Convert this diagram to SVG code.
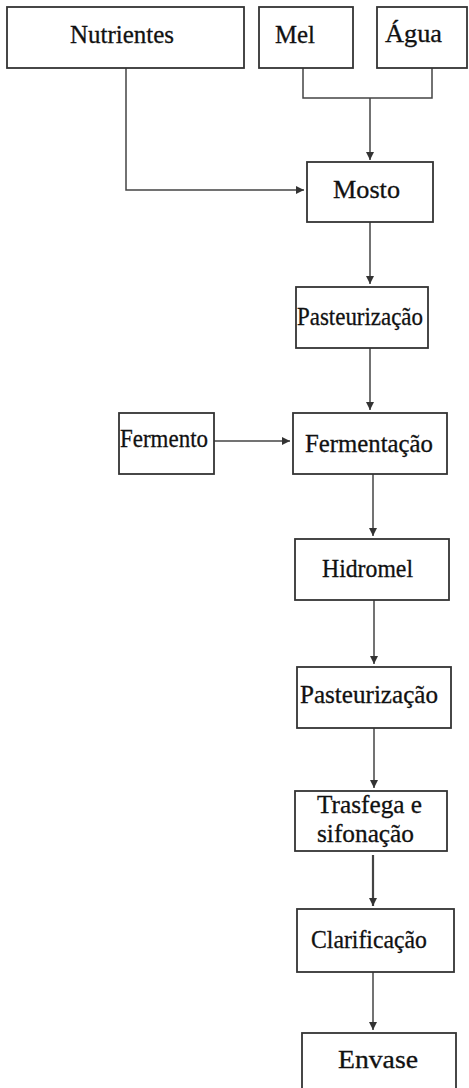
<svg xmlns="http://www.w3.org/2000/svg" width="469" height="1088" viewBox="0 0 469 1088">
<style>
.box{fill:#ffffff;stroke:#333333;stroke-width:1.8}
.t{font-family:"Liberation Serif","Times New Roman",serif;font-size:25px;fill:#111111;stroke:#111111;stroke-width:0.3}
.ln{fill:none;stroke:#444444;stroke-width:1.5}
</style>
<defs>
<marker id="ah" viewBox="0 0 10 10" refX="10" refY="5" markerWidth="8" markerHeight="8" markerUnits="userSpaceOnUse" orient="auto">
<path d="M0,0 L10,5 L0,10 Z" fill="#333333"/>
</marker>
</defs>
<rect width="469" height="1088" fill="#ffffff"/>
<g id="connectors">
<polyline class="ln" points="303,68 303,98 432,98 432,68"/>
<line class="ln" x1="370" y1="98" x2="370" y2="160" marker-end="url(#ah)"/>
<polyline class="ln" points="126,68 126,190 304,190" marker-end="url(#ah)"/>
<line class="ln" x1="370" y1="222" x2="370" y2="284" marker-end="url(#ah)"/>
<line class="ln" x1="370" y1="348" x2="370" y2="410" marker-end="url(#ah)"/>
<line class="ln" x1="214" y1="441" x2="290" y2="441" marker-end="url(#ah)"/>
<line class="ln" x1="373" y1="474" x2="373" y2="536" marker-end="url(#ah)"/>
<line class="ln" x1="374" y1="600" x2="374" y2="664" marker-end="url(#ah)"/>
<line class="ln" x1="374" y1="728" x2="374" y2="788" marker-end="url(#ah)"/>
<line class="ln" x1="373" y1="855" x2="373" y2="906" marker-end="url(#ah)" style="stroke-width:2.2"/>
<line class="ln" x1="373" y1="972" x2="373" y2="1030" marker-end="url(#ah)"/>
</g>
<g id="nutrientes"><rect class="box" x="7" y="7" width="237" height="61"/><text class="t" x="70" y="43" textLength="104" lengthAdjust="spacingAndGlyphs">Nutrientes</text></g>
<g id="mel"><rect class="box" x="259" y="7" width="94" height="61"/><text class="t" x="275" y="43" textLength="40" lengthAdjust="spacingAndGlyphs">Mel</text></g>
<g id="agua"><rect class="box" x="377" y="7" width="90" height="61"/><text class="t" x="385" y="42" textLength="57" lengthAdjust="spacingAndGlyphs">Água</text></g>
<g id="mosto"><rect class="box" x="307" y="162" width="126" height="60"/><text class="t" x="333" y="198" textLength="67" lengthAdjust="spacingAndGlyphs">Mosto</text></g>
<g id="pasteurizacao1"><rect class="box" x="296" y="287" width="132" height="61"/><text class="t" x="297" y="325" textLength="126" lengthAdjust="spacingAndGlyphs">Pasteurização</text></g>
<g id="fermento"><rect class="box" x="119" y="413" width="95" height="61"/><text class="t" x="120" y="447" textLength="88" lengthAdjust="spacingAndGlyphs">Fermento</text></g>
<g id="fermentacao"><rect class="box" x="293" y="413" width="154" height="61"/><text class="t" x="305" y="452" textLength="128" lengthAdjust="spacingAndGlyphs">Fermentação</text></g>
<g id="hidromel"><rect class="box" x="295" y="539" width="154" height="61"/><text class="t" x="322" y="577" textLength="91" lengthAdjust="spacingAndGlyphs">Hidromel</text></g>
<g id="pasteurizacao2"><rect class="box" x="297" y="667" width="154" height="61"/><text class="t" x="300" y="703" textLength="138" lengthAdjust="spacingAndGlyphs">Pasteurização</text></g>
<g id="trasfega"><rect class="box" x="295" y="791" width="152" height="60"/><text class="t" x="317" y="813" textLength="105" lengthAdjust="spacingAndGlyphs">Trasfega e</text><text class="t" x="317" y="842" textLength="97" lengthAdjust="spacingAndGlyphs">sifonação</text></g>
<g id="clarificacao"><rect class="box" x="297" y="909" width="157" height="63"/><text class="t" x="311" y="948" textLength="116" lengthAdjust="spacingAndGlyphs">Clarificação</text></g>
<g id="envase"><rect class="box" x="302" y="1033" width="154" height="62"/><text class="t" x="338" y="1068" textLength="80" lengthAdjust="spacingAndGlyphs">Envase</text></g>
</svg>
